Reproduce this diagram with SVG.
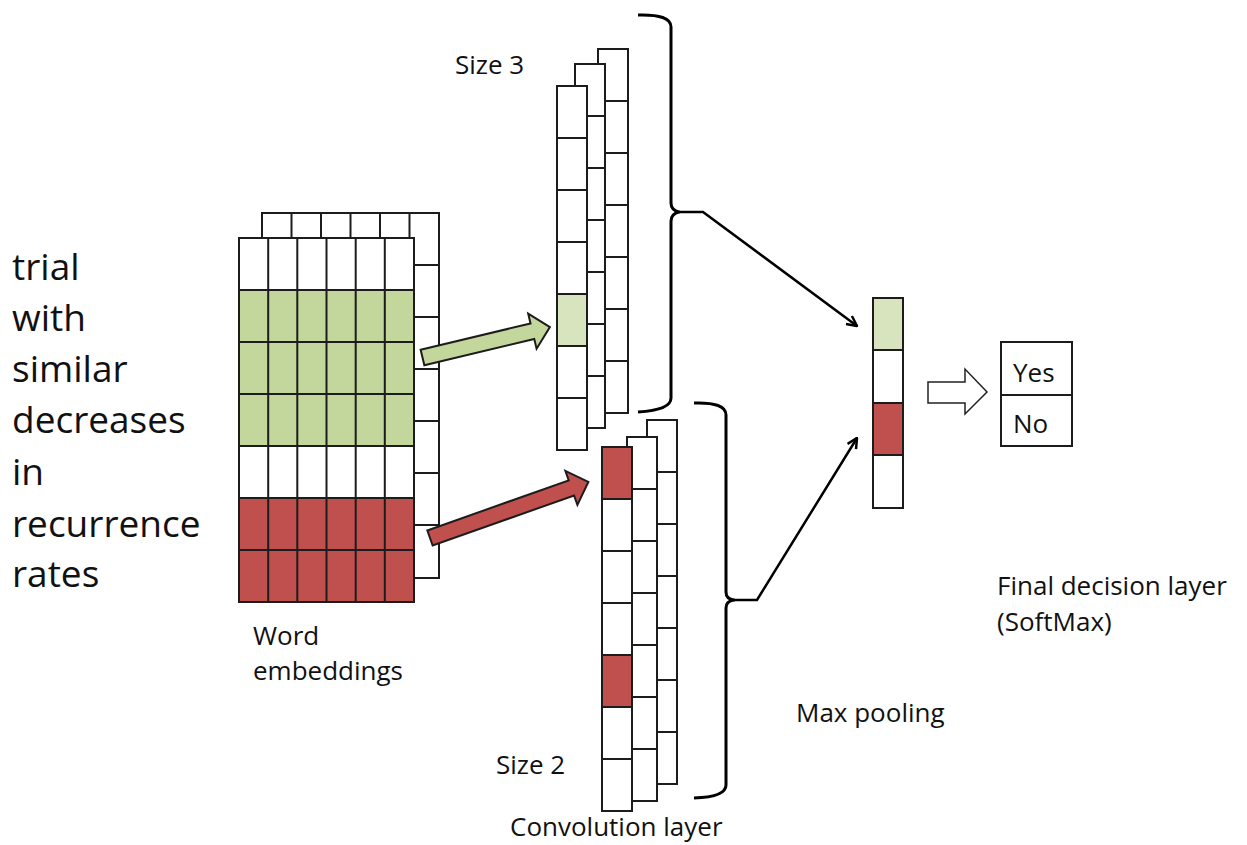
<svg xmlns="http://www.w3.org/2000/svg" width="1247" height="845" viewBox="0 0 1247 845">
<defs>
<style>
.c{fill:#fff;stroke:#1c1c1c;stroke-width:2}
.g{fill:#c3d69b;stroke:#1c1c1c;stroke-width:2}
.lg{fill:#d7e4bd;stroke:#1c1c1c;stroke-width:2}
.r{fill:#c0504d;stroke:#1c1c1c;stroke-width:2}
.t{font-family:"Open Sans","Noto Sans",sans-serif;fill:#111}
.lbl{font-size:26px}
.big{font-size:37px}
.br{fill:none;stroke:#000;stroke-width:3;stroke-linejoin:round}
.ar{fill:none;stroke:#000;stroke-width:2.5}
</style>
<marker id="open" viewBox="0 0 12 12" refX="11" refY="6" markerWidth="12" markerHeight="12" markerUnits="userSpaceOnUse" orient="auto">
<path d="M1,1 L11,6 L1,11" fill="none" stroke="#000" stroke-width="2.5"/>
</marker>
</defs>
<rect width="1247" height="845" fill="#fff"/>

<g id="input-text" class="t big">
<text x="12" y="280">trial</text>
<text x="12" y="331">with</text>
<text x="12" y="382">similar</text>
<text x="12" y="433">decreases</text>
<text x="12" y="485">in</text>
<text x="12" y="537">recurrence</text>
<text x="12" y="587">rates</text>
</g>

<g id="word-embeddings">
<g id="emb-back">
<rect class="c" x="262" y="213" width="177" height="365"/>
<path d="M291.5,213V578M321,213V578M350.5,213V578M380,213V578M409.5,213V578M262,265H439M262,317H439M262,369H439M262,421H439M262,473H439M262,525H439" fill="none" stroke="#1c1c1c" stroke-width="2"/>
</g>
<g id="emb-front">
<rect class="c" x="239" y="238" width="175" height="52"/>
<rect class="g" x="239" y="290" width="175" height="156"/>
<rect class="c" x="239" y="446" width="175" height="52"/>
<rect class="r" x="239" y="498" width="175" height="104"/>
<path d="M268.2,238V602M297.3,238V602M326.5,238V602M355.7,238V602M384.8,238V602M239,342H414M239,394H414M239,550H414" fill="none" stroke="#1c1c1c" stroke-width="2"/>
<rect x="239" y="238" width="175" height="364" fill="none" stroke="#1c1c1c" stroke-width="2"/>
</g>
<text class="t lbl" x="253" y="645">Word</text>
<text class="t lbl" x="253" y="680">embeddings</text>
</g>

<g id="conv-size3">
<rect class="c" x="598" y="49" width="30" height="364"/>
<path d="M598,101H628M598,153H628M598,205H628M598,257H628M598,309H628M598,361H628" stroke="#1c1c1c" stroke-width="2"/>
<rect class="c" x="575" y="64" width="30" height="364"/>
<path d="M575,116H605M575,168H605M575,220H605M575,272H605M575,324H605M575,376H605" stroke="#1c1c1c" stroke-width="2"/>
<rect class="c" x="557" y="86" width="30" height="364"/>
<rect class="lg" x="557" y="294" width="30" height="52"/>
<path d="M557,138H587M557,190H587M557,242H587M557,398H587" stroke="#1c1c1c" stroke-width="2"/>
<text class="t lbl" x="455" y="74">Size 3</text>
</g>

<g id="conv-size2">
<rect class="c" x="647" y="420" width="30" height="364"/>
<path d="M647,472H677M647,524H677M647,576H677M647,628H677M647,680H677M647,732H677" stroke="#1c1c1c" stroke-width="2"/>
<rect class="c" x="627" y="437" width="30" height="364"/>
<path d="M627,489H657M627,541H657M627,593H657M627,645H657M627,697H657M627,749H657" stroke="#1c1c1c" stroke-width="2"/>
<rect class="c" x="602" y="447" width="30" height="364"/>
<rect class="r" x="602" y="447" width="30" height="52"/>
<rect class="r" x="602" y="655" width="30" height="52"/>
<path d="M602,551H632M602,603H632M602,759H632" stroke="#1c1c1c" stroke-width="2"/>
<text class="t lbl" x="496" y="774">Size 2</text>
<text class="t lbl" x="510" y="836">Convolution layer</text>
</g>

<g id="max-pooling">
<rect class="lg" x="873" y="298" width="30" height="52"/>
<rect class="c" x="873" y="350" width="30" height="53"/>
<rect class="r" x="873" y="403" width="30" height="52"/>
<rect class="c" x="873" y="455" width="30" height="53"/>
<text class="t lbl" x="796" y="722">Max pooling</text>
</g>

<g id="softmax">
<rect class="c" x="1001" y="342" width="71" height="53"/>
<rect class="c" x="1001" y="395" width="71" height="51"/>
<text class="t lbl" x="1013" y="382">Yes</text>
<text class="t lbl" x="1013" y="433">No</text>
<text class="t lbl" x="997" y="595">Final decision layer</text>
<text class="t lbl" x="997" y="631">(SoftMax)</text>
</g>

<g id="connectors">
<polygon class="g" transform="translate(422.5,357.5) rotate(-13.45)" points="0,-8 113,-8 113,-18 131,0 113,18 113,8 0,8"/>
<polygon class="r" transform="translate(430,538) rotate(-19.5)" points="0,-8 150,-8 150,-18 168,0 150,18 150,8 0,8"/>
<path class="br" d="M638,15 Q671,14 671,27 L671,203 Q671,210 679,212 Q671,214 671,221 L671,398 Q671,410 638,412"/>
<path class="ar" d="M679,212 L703,212 L857,326" marker-end="url(#open)"/>
<path class="br" d="M694,403 Q726,402 726,415 L726,592 Q726,599 734,600 Q726,601 726,608 L726,785 Q726,797 694,798"/>
<path class="ar" d="M734,600 L757,600 L857,438" marker-end="url(#open)"/>
<polygon points="928,382 965,382 965,369 987,392 965,414 965,403 928,403" fill="#fff" stroke="#222" stroke-width="1.5"/>
</g>
</svg>
